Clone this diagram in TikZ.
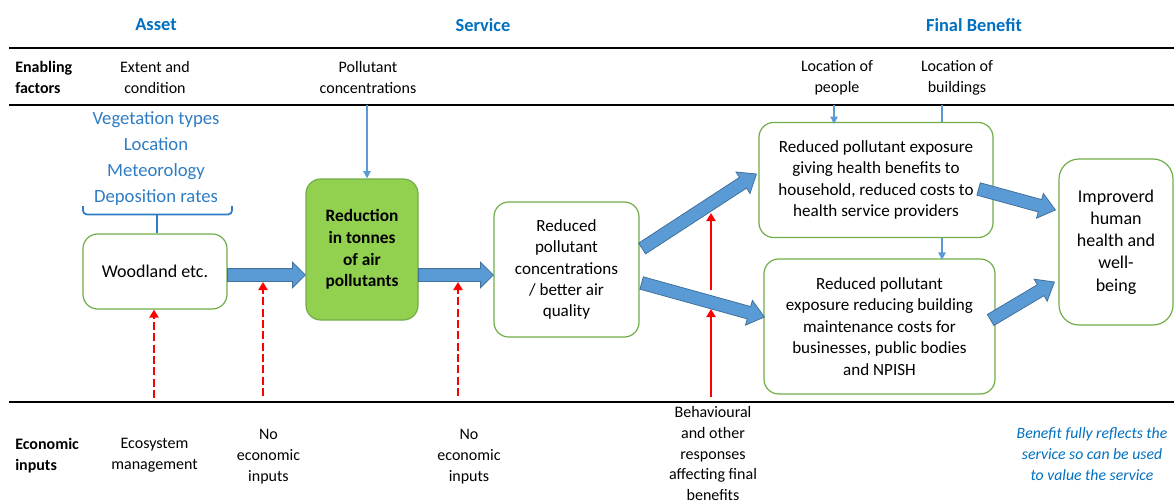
\documentclass[tikz,border=0pt]{standalone}
\usepackage{fontspec}
\setmainfont{Carlito}
\usetikzlibrary{calc,arrows.meta}

\definecolor{headblue}{RGB}{0,112,192}
\definecolor{listblue}{RGB}{46,125,196}
\definecolor{arrowfill}{RGB}{91,155,213}
\definecolor{arrowedge}{RGB}{65,113,156}
\definecolor{boxgreen}{RGB}{112,173,71}
\definecolor{fillgreen}{RGB}{146,208,80}
\definecolor{inred}{RGB}{255,0,0}

\tikzset{
  rule/.style={line width=1.6pt},
  colhead/.style={font=\fontsize{13.8}{16}\selectfont\bfseries, text=headblue, inner sep=0pt},
  factor/.style={font=\fontsize{12}{15.75}\selectfont, align=center, inner sep=0pt},
  rowlabel/.style={font=\fontsize{12}{15.75}\selectfont\bfseries, align=left, anchor=west, inner sep=0pt},
  stagebox/.style={draw=boxgreen, line width=0.9pt, rounded corners=11pt, fill=white,
    align=center, font=\fontsize{12.8}{16.1}\selectfont, inner sep=0pt},
  servicebox/.style={stagebox, fill=fillgreen, font=\fontsize{13}{16.3}\selectfont\bfseries},
  blockarrow/.style={draw=arrowedge, fill=arrowfill, line width=0.6pt, line join=miter},
  feed/.style={draw=arrowfill, line width=1.3pt, -{Triangle[width=5.5pt,length=5.5pt]}},
  feedline/.style={draw=arrowfill, line width=1.3pt},
  inputarrow/.style={draw=inred, line width=1.6pt, -{Triangle[width=6.75pt,length=6pt]}},
  inputdash/.style={inputarrow, dash pattern=on 6pt off 2.5pt},
}

% wide block arrow from #2 to #3, head length #1
\newcommand\blockarrow[3][9.75pt]{%
  \coordinate (ba-h) at ($(#3)!#1!(#2)$);
  \draw[blockarrow]
    ($(#2)!4.8pt!90:(#3)$) -- ($(ba-h)!4.8pt!90:(#3)$) -- ($(ba-h)!9.6pt!90:(#3)$)
    -- (#3)
    -- ($(ba-h)!9.6pt!-90:(#3)$) -- ($(ba-h)!4.8pt!-90:(#3)$) -- ($(#2)!4.8pt!-90:(#3)$)
    -- cycle;
}

\begin{document}
\begin{tikzpicture}[x=0.75pt,y=-0.75pt]
\useasboundingbox (0,0) rectangle (1174,503);

% column headings
\node[colhead] (hasset) at (156,25) {Asset};
\node[colhead] (hservice) at (483,25) {Service};
\node[colhead] (hbenefit) at (974,25) {Final Benefit};

% table rules
\draw[rule] (9,48) -- (1174,48);
\draw[rule] (9,105) -- (1174,105);
\draw[rule] (9,402) -- (1174,402);

% enabling factors row
\node[rowlabel] (enabling) at (15,77.5) {Enabling\\factors};
\node[factor] (extent) at (155,77.5) {Extent and\\condition};
\node[factor] (pollconc) at (368,77.5) {Pollutant\\concentrations};
\node[factor] (locpeople) at (837,77.5) {Location of\\people};
\node[factor] (locbuild) at (957,77.5) {Location of\\buildings};

% asset attributes
\node[font=\fontsize{14}{19.5}\selectfont, text=listblue, align=center, inner sep=0pt]
  (attrs) at (156,158.5) {Vegetation types\\Location\\Meteorology\\Deposition rates};

% stages of the chain
\node[stagebox, minimum width=108pt, minimum height=56.25pt, font=\fontsize{13.5}{16.5}\selectfont]
  (wood) at (155,271.5) {Woodland etc.};
\node[servicebox, minimum width=84pt, minimum height=105.75pt]
  (reduction) at (362,249.5) {Reduction\\in tonnes\\of air\\pollutants};
\node[stagebox, minimum width=108.75pt, minimum height=101.25pt]
  (airq) at (566.5,269.5) {Reduced\\pollutant\\concentrations\\/ better air\\quality};
\node[stagebox, minimum width=175.5pt, minimum height=86.25pt]
  (health) at (876,180) {Reduced pollutant exposure\\giving health benefits to\\household, reduced costs to\\health service providers};
\node[stagebox, minimum width=173.25pt, minimum height=101.25pt]
  (buildings) at (879.5,326.5) {Reduced pollutant\\exposure reducing building\\maintenance costs for\\businesses, public bodies\\and NPISH};
\node[stagebox, rounded corners=15pt, minimum width=85.5pt, minimum height=124.5pt,
  font=\fontsize{13.5}{16.7}\selectfont]
  (wellbeing) at (1116,242) {Improverd\\human\\health and\\well-\\being};

% brace gathering the attributes onto the asset
\coordinate (brace) at (157,214.5);
\draw[listblue, line width=1.3pt, rounded corners=3pt] (83,206) |- (brace) -| (232,206);
\draw[listblue, line width=1.3pt] (brace) -- (brace |- wood.north);

% enabling factors feeding in from above
\coordinate (fpoll) at (367,105);
\coordinate (fpeople) at (834,105);
\coordinate (fbuild) at (942,105);
\draw[feed] (fpoll) -- (fpoll |- reduction.north);
\draw[feed] (fpeople) -- ([yshift=-1.5pt]fpeople |- health.north);
\draw[feedline] (fbuild) -- (fbuild |- health.north);
\draw[feed] (fbuild |- health.south) -- ([yshift=-1pt]fbuild |- buildings.north);

% block arrows along the chain
\coordinate (a1s) at ($(wood.east)+(0,3.5)$);
\coordinate (a1e) at (a1s -| reduction.west);
\blockarrow{a1s}{a1e}
\coordinate (a2s) at (a1s -| reduction.east);
\coordinate (a2e) at (a1s -| airq.west);
\blockarrow{a2s}{a2e}
\coordinate (a3s) at ($(airq.east)+(2.5,-21)$);
\coordinate (a3e) at ($(health.west)+(-2,-6)$);
\blockarrow[12pt]{a3s}{a3e}
\coordinate (a4s) at ($(airq.east)+(2,13.5)$);
\coordinate (a4e) at ($(buildings.west)+(1,-9.5)$);
\blockarrow[12pt]{a4s}{a4e}
\coordinate (a5s) at ($(health.east)+(-15,9)$);
\coordinate (a5e) at ($(wellbeing.west)+(-3,-32)$);
\blockarrow[12pt]{a5s}{a5e}
\coordinate (a6s) at ($(buildings.east)+(-5,-6.5)$);
\coordinate (a6e) at ($(wellbeing.west)+(-4,40)$);
\blockarrow[12pt]{a6s}{a6e}

% economic inputs acting from below
\coordinate (e1) at (154,398);
\coordinate (e2) at (263,396);
\coordinate (t2) at (263,282);
\coordinate (e3) at (458,396);
\coordinate (t3) at (458,282);
\coordinate (e4) at (711,397);
\coordinate (t4) at (711,309);
\coordinate (e5) at (711,290);
\coordinate (t5) at (711,213);
\draw[inputdash] (e1) -- (e1 |- wood.south);
\draw[inputdash] (e2) -- (t2);
\draw[inputdash] (e3) -- (t3);
\draw[inputarrow] (e4) -- (t4);
\draw[inputarrow] (e5) -- (t5);

% economic inputs row
\node[rowlabel] (economic) at (15,455.5) {Economic\\inputs};
\node[factor] (ecomgmt) at (154.5,455) {Ecosystem\\management};
\node[factor] (noinput1) at (268.5,456.5) {No\\economic\\inputs};
\node[factor] (noinput2) at (469,456.5) {No\\economic\\inputs};
\node[factor, font=\fontsize{12}{15.4}\selectfont] (behaviour) at (713,453.5)
  {Behavioural\\and other\\responses\\affecting final\\benefits};
\node[factor, font=\fontsize{11.8}{15.5}\selectfont\itshape, text=headblue] (note) at (1092,454)
  {Benefit fully reflects the\\service so can be used\\to value the service};
\end{tikzpicture}
\end{document}
